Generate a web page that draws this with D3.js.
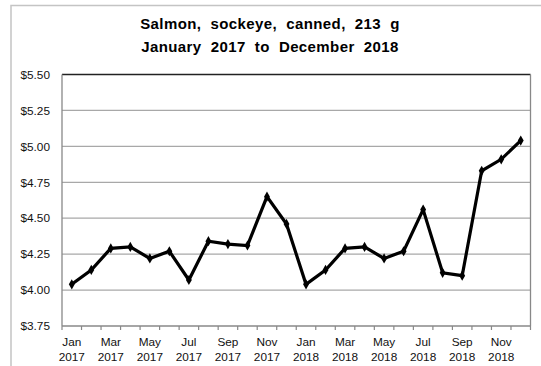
<!DOCTYPE html>
<html>
<head>
<meta charset="utf-8">
<script src="https://cdn.jsdelivr.net/npm/d3@7"></script>
<style>
  html, body { margin: 0; padding: 0; background: #fff; }
  svg { display: block; font-family: "Liberation Sans", Arial, sans-serif; }
</style>
</head>
<body>
<svg id="chart" width="541" height="366"></svg>
<script>
// Monthly average retail price, canned sockeye salmon (213 g)
const months = ["Jan","Feb","Mar","Apr","May","Jun","Jul","Aug","Sep","Oct","Nov","Dec"];
const years = ["2017", "2018"];
const categories = years.flatMap(y => months.map(m => m + " " + y));
const prices = [
  4.04, 4.14, 4.29, 4.30, 4.22, 4.27, 4.07, 4.34, 4.32, 4.31, 4.65, 4.46,
  4.04, 4.14, 4.29, 4.30, 4.22, 4.27, 4.56, 4.12, 4.10, 4.83, 4.91, 5.04
];
const yTicks = [3.75, 4.00, 4.25, 4.50, 4.75, 5.00, 5.25, 5.50];
const titleLines = ["Salmon,  sockeye,  canned,  213  g", "January  2017  to  December  2018"];

const svg = d3.select("#chart");
const plot = { left: 62, right: 530.5, top: 74.5, bottom: 326 };

// outer frame
svg.append("path")
  .attr("d", `M11,370 L11,5.5 L545,5.5`)
  .attr("fill", "none").attr("stroke", "#c4c4c4").attr("stroke-width", 1.5);

const x = d3.scaleBand().domain(categories).range([plot.left, plot.right]);
const y = d3.scaleLinear().domain([3.75, 5.5]).range([plot.bottom, plot.top]);

// horizontal gridlines
svg.append("g").selectAll("line").data(yTicks.filter(t => t > 3.75 && t < 5.5)).join("line")
  .attr("x1", plot.left).attr("x2", plot.right)
  .attr("y1", d => y(d)).attr("y2", d => y(d))
  .attr("stroke", "#a8a8a8").attr("stroke-width", 1.3);

// plot frame
svg.append("line").attr("x1", plot.left).attr("x2", plot.right)
  .attr("y1", plot.top).attr("y2", plot.top).attr("stroke", "#222").attr("stroke-width", 1.3);
svg.append("line").attr("x1", plot.right).attr("x2", plot.right)
  .attr("y1", plot.top).attr("y2", plot.bottom).attr("stroke", "#888").attr("stroke-width", 1.3);
svg.append("line").attr("x1", plot.left).attr("x2", plot.left)
  .attr("y1", plot.top).attr("y2", plot.bottom).attr("stroke", "#888").attr("stroke-width", 1.3);
svg.append("line").attr("x1", plot.left).attr("x2", plot.right)
  .attr("y1", plot.bottom).attr("y2", plot.bottom).attr("stroke", "#888").attr("stroke-width", 1.3);

// y axis labels
const yAxis = d3.axisLeft(y).tickValues(yTicks).tickSize(0).tickPadding(12)
  .tickFormat(d => "$" + d3.format(".2f")(d));
svg.append("g").attr("transform", `translate(${plot.left},0)`).call(yAxis)
  .call(g => g.select(".domain").remove())
  .selectAll("text").attr("font-size", 11.8).attr("fill", "#111")
  .attr("font-family", "Liberation Sans, Arial, sans-serif");

// x axis tick marks at band boundaries
const boundaries = categories.map(c => x(c)).concat([plot.right]);
svg.append("g").selectAll("line").data(boundaries).join("line")
  .attr("x1", d => d).attr("x2", d => d)
  .attr("y1", plot.bottom).attr("y2", plot.bottom + 4)
  .attr("stroke", "#888").attr("stroke-width", 1.2);

// x labels every other month, two lines
const xl = svg.append("g").selectAll("text")
  .data(categories.filter((c, i) => i % 2 === 0)).join("text")
  .attr("x", d => x(d) + x.bandwidth() / 2)
  .attr("text-anchor", "middle").attr("font-size", 11.8).attr("fill", "#111");
xl.append("tspan").attr("x", d => x(d) + x.bandwidth() / 2).attr("y", 346).text(d => d.split(" ")[0]);
xl.append("tspan").attr("x", d => x(d) + x.bandwidth() / 2).attr("y", 360.5).text(d => d.split(" ")[1]);

// price line
const line = d3.line().x((d, i) => x(categories[i]) + x.bandwidth() / 2).y(d => y(d));
svg.append("path").datum(prices).attr("d", line)
  .attr("fill", "none").attr("stroke", "#000").attr("stroke-width", 3.2)
  .attr("stroke-linejoin", "miter");

// diamond markers
svg.append("g").selectAll("path").data(prices).join("path")
  .attr("transform", (d, i) => `translate(${x(categories[i]) + x.bandwidth() / 2},${y(d)})`)
  .attr("d", d3.symbol().type(d3.symbolDiamond).size(30))
  .attr("fill", "#000");

// title
svg.append("g").selectAll("text").data(titleLines).join("text")
  .attr("x", 270).attr("y", (d, i) => 29 + i * 22.5)
  .attr("text-anchor", "middle").attr("font-size", 15).attr("font-weight", "bold")
  .attr("letter-spacing", 0.4)
  .style("white-space", "pre").attr("fill", "#000")
  .text(d => d);
</script>
</body>
</html>
